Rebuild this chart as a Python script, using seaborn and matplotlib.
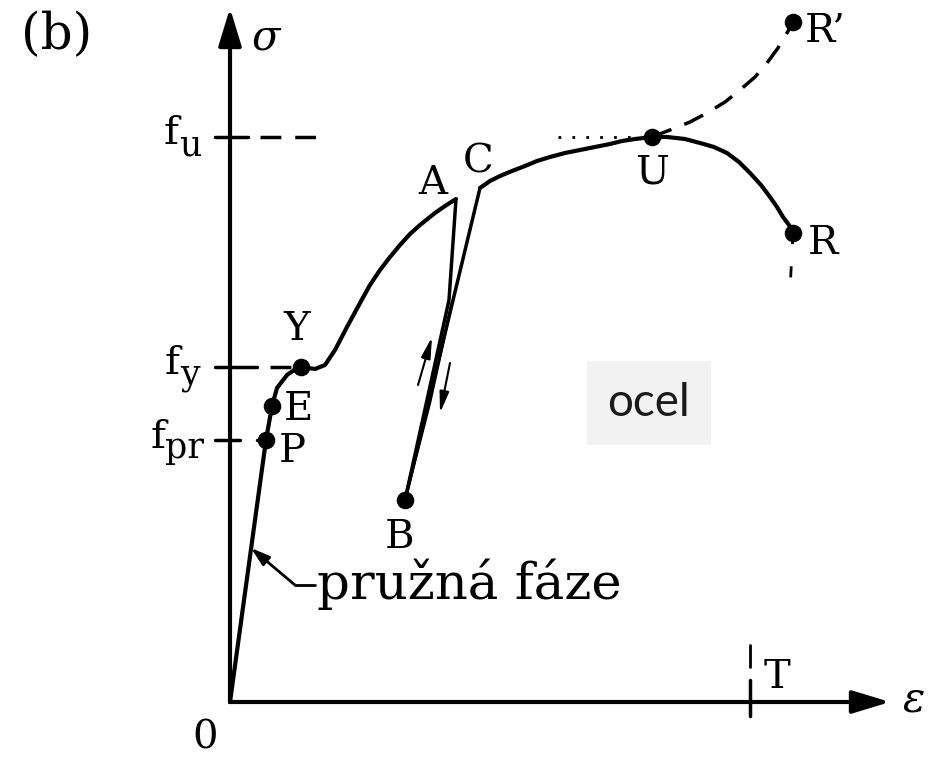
import numpy as np
import pandas as pd
import matplotlib
matplotlib.use("Agg")
import matplotlib.pyplot as plt
import seaborn as sns

# Stress-strain diagram of steel (schematic), strain eps / stress sig in drawing units
elastic_eps = [0, 36, 42]
elastic_sig = [0, 262, 296]

yield_eps = [42, 47, 57, 67, 71, 85, 95, 105, 117, 130, 140, 150, 160, 170, 180, 190,
             205, 215, 226]
yield_sig = [296, 314, 327, 334, 335, 333, 337, 352, 375, 399, 417, 432, 445, 457, 468,
             477, 489, 496, 503]

unload_eps = [226, 219, 175]
unload_sig = [503, 402, 202]

reload_eps = [175, 250]
reload_sig = [202, 514]

loop_eps = [175, 200, 222]
loop_sig = [202, 300, 400]

harden_eps = [250, 260, 270, 282, 295, 307, 320, 335, 350, 365, 380, 392, 405, 422]
harden_sig = [514, 521, 526, 531, 536, 541, 545, 549, 552, 555, 558, 561, 563, 565]

neck_eps = [422, 437, 455, 470, 484, 497, 509, 520, 531, 540, 547, 553, 559, 563]
neck_sig = [565, 565, 563, 559, 555, 549, 540, 529, 517, 505, 495, 485, 477, 469]

true_eps = [422, 440, 460, 477, 495, 510, 525, 537, 548, 557, 563]
true_sig = [565, 572, 580, 589, 600, 612, 625, 639, 654, 669, 680]

rupture_tail_eps = [563, 560]
rupture_tail_sig = [469, 412]

f_pr, f_y, f_u = 262, 335, 565
eps_T = 520

point_names = ["P", "E", "Y", "B", "U", "R", "R’"]
point_eps = [36, 42, 71, 175, 422, 563, 563]
point_sig = [262, 296, 335, 202, 565, 469, 680]

fig = plt.figure(figsize=(9.48, 7.59), dpi=100)
sns.set_style("white")
plt.rcParams["font.family"] = ["DejaVu Serif"]
plt.rcParams["mathtext.fontset"] = "dejavuserif"

ax = fig.add_axes([0, 0, 1, 1])
ax.set_xlim(-230, 718)
ax.set_ylim(-57, 702)
ax.axis("off")

K = "black"
LW = 3.0


def curve(xs, ys, lw=LW, **kw):
    sns.lineplot(x=xs, y=ys, sort=False, estimator=None, color=K,
                 linewidth=lw, ax=ax, solid_capstyle="round",
                 solid_joinstyle="round", **kw)


# axes with arrow heads
ax.annotate("", xy=(0, 694), xytext=(0, 0),
            arrowprops=dict(arrowstyle="-|>,head_length=1.15,head_width=0.35",
                            mutation_scale=20, lw=LW, color=K, shrinkA=0, shrinkB=0))
ax.annotate("", xy=(660, 0), xytext=(0, 0),
            arrowprops=dict(arrowstyle="-|>,head_length=1.15,head_width=0.35",
                            mutation_scale=20, lw=LW, color=K, shrinkA=0, shrinkB=0))

# stress levels
dash = (0, (6, 4))
curve([-15, 18], [f_u, f_u], lw=2.5)
curve([30, 90], [f_u, f_u], lw=2.5, linestyle=dash)
curve([-15, 27], [f_y, f_y], lw=2.5)
curve([40, 71], [f_y, f_y], lw=2.5, linestyle=dash)
curve([-15, 10], [f_pr, f_pr], lw=2.5)
curve([27, 36], [f_pr, f_pr], lw=2.5)
curve([328, 410], [f_u, f_u], lw=2.0, linestyle=(0, (1, 4)))

# strain at rupture
curve([eps_T, eps_T], [-14, 22], lw=2.5)
curve([eps_T, eps_T], [35, 57], lw=2.0)

# material curve
curve(elastic_eps, elastic_sig)
curve(yield_eps, yield_sig)
curve(unload_eps, unload_sig, lw=2.5)
curve(reload_eps, reload_sig, lw=2.5)
curve(loop_eps, loop_sig, lw=2.0)
curve(harden_eps, harden_sig)
curve(neck_eps, neck_sig)
curve(true_eps, true_sig, lw=2.5, linestyle=(0, (6, 4)))
curve(rupture_tail_eps, rupture_tail_sig, lw=2.0, linestyle=(0, (4, 8)))

# loading / unloading arrows
arw = dict(arrowstyle="-|>,head_length=0.9,head_width=0.2", mutation_scale=14,
           lw=1.5, color=K, shrinkA=0, shrinkB=0)
ax.annotate("", xy=(202, 365), xytext=(188, 317), arrowprops=arw)
ax.annotate("", xy=(210, 289), xytext=(220, 339), arrowprops=arw)

# characteristic points
pts = pd.DataFrame({"eps": point_eps, "sig": point_sig, "name": point_names})
sns.scatterplot(data=pts, x="eps", y="sig", color=K, s=160, edgecolor=K,
                linewidth=0, ax=ax, zorder=5, legend=False)

fs = 29
labels = [("Y", 67, 372), ("E", 68, 292), ("P", 62, 250),
          ("A", 203, 519), ("C", 248, 540), ("B", 170, 165), ("U", 422, 529),
          ("R", 593, 459), ("R’", 595, 670), ("T", 547, 25), ("0", -25, -36)]
for txt, x, y in labels:
    ax.text(x, y, txt, fontsize=fs, ha="center", va="center", color=K)
ax.text(-173, 667, "(b)", fontsize=36, ha="center", va="center", color=K)

ax.text(37, 664, r"$\sigma$", fontsize=30, ha="center", va="center", color=K)
ax.text(683, 2, r"$\varepsilon$", fontsize=30, ha="center", va="center", color=K)

# stress level labels with subscripts
for base_x, sub, y in [(-51, "u", f_u), (-50, "y", f_y), (-65, "pr", f_pr)]:
    ax.text(base_x, y + 3, "f", fontsize=fs, ha="right", va="center", color=K)
    ax.text(base_x, y - 8, sub, fontsize=25, ha="left", va="center", color=K)

# elastic phase leader and label
curve([65, 85], [117, 117], lw=2.0)
ax.annotate("", xy=(21, 154), xytext=(65, 117),
            arrowprops=dict(arrowstyle="-|>,head_length=0.8,head_width=0.25",
                            mutation_scale=14, lw=2.0, color=K, shrinkA=0, shrinkB=0))
ax.text(87, 118, "pružná fáze", fontsize=37, ha="left", va="center", color=K)

# material tag
ax.text(419, 299, "ocel", fontsize=33, family="Lato", ha="center", va="center",
        color="#1a1a1a",
        bbox=dict(boxstyle="square,pad=0.45", facecolor="#f2f2f2", edgecolor="none"))

fig.savefig("out.png", dpi=100)
